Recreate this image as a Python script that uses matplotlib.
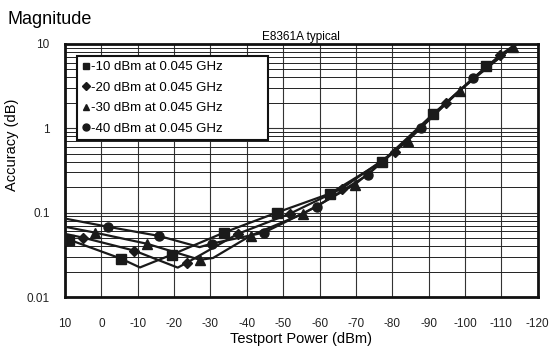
import matplotlib
matplotlib.use("Agg")
import matplotlib.pyplot as plt
from matplotlib.lines import Line2D

plt.rcParams['font.family'] = ['Liberation Sans', 'DejaVu Sans']
plt.rcParams['axes.unicode_minus'] = False

# ---- data ----
x_ticks = [10, 0, -10, -20, -30, -40, -50, -60, -70, -80, -90, -100, -110, -120]
x_tick_labels = ["10", "0", "-10", "-20", "-30", "-40", "-50", "-60", "-70", "-80", "-90", "-100", "-110", "-120"]
y_ticks = [0.01, 0.1, 1, 10]
y_tick_labels = ["0.01", "0.1", "1", "10"]

sq_x = [10, 9, -5.4, -10.6, -19.4, -33.7, -48.2, -62.8, -77.1, -91.1, -105.9, -114.6]
sq_y = [0.049, 0.048, 0.0285, 0.0224, 0.0318, 0.058, 0.100, 0.168, 0.40, 1.46, 5.4, 10.2]
sq_marks = [1, 2, 4, 5, 6, 7, 8, 9, 10]

dia_x = [10, 5.0, -9.0, -21.0, -23.5, -37.5, -51.8, -66.1, -80.7, -94.9, -109.5, -114.5]
dia_y = [0.056, 0.0505, 0.0355, 0.0223, 0.0255, 0.056, 0.097, 0.193, 0.53, 2.02, 7.3, 10.3]
dia_marks = [1, 2, 4, 5, 6, 7, 8, 9, 10]

tri_x = [10, 1.8, -12.5, -27.1, -30.7, -41.1, -55.4, -69.7, -84.2, -98.5, -113.1, -114.6]
tri_y = [0.068, 0.058, 0.0428, 0.0276, 0.029, 0.0535, 0.097, 0.215, 0.71, 2.8, 9.2, 10.4]
tri_marks = [1, 2, 3, 5, 6, 7, 8, 9, 10]

cir_x = [10, -1.8, -15.8, -27.0, -30.4, -44.7, -59.2, -73.2, -87.8, -102.1, -114.6]
cir_y = [0.085, 0.068, 0.053, 0.039, 0.043, 0.058, 0.118, 0.28, 1.02, 3.9, 10.2]
cir_marks = [1, 2, 4, 5, 6, 7, 8, 9]

labels = ["-10 dBm at 0.045 GHz", "-20 dBm at 0.045 GHz",
          "-30 dBm at 0.045 GHz", "-40 dBm at 0.045 GHz"]

# ---- figure ----
fig = plt.figure(figsize=(5.51, 3.54), dpi=100)
ax = fig.add_axes([0.118, 0.161, 0.858, 0.715])

col = '#1a1a1a'
series = [
    (sq_x, sq_y, sq_marks, 's', 6.5),
    (dia_x, dia_y, dia_marks, 'D', 5.0),
    (tri_x, tri_y, tri_marks, '^', 6.5),
    (cir_x, cir_y, cir_marks, 'o', 6.5),
]
for xs, ys, mk, m, ms in series:
    ax.plot(xs, ys, color=col, lw=1.6, marker=m, markersize=ms,
            markevery=mk, markerfacecolor=col, markeredgecolor=col, zorder=3)

ax.set_yscale('log')
ax.set_xlim(10, -120)
ax.set_ylim(0.01, 10)
ax.set_xticks(x_ticks)
ax.set_xticklabels(x_tick_labels)
ax.set_yticks(y_ticks)
ax.set_yticklabels(y_tick_labels)
ax.tick_params(axis='both', which='both', length=0, labelsize=8.5, colors='#222222')
ax.tick_params(axis='x', pad=15)
ax.tick_params(axis='y', pad=11)
ax.grid(True, which='major', color='#333333', lw=0.8)
ax.grid(True, which='minor', axis='y', color='#222222', lw=0.7)
ax.xaxis.set_minor_locator(matplotlib.ticker.NullLocator())
for s in ax.spines.values():
    s.set_linewidth(2.0)
    s.set_color('#111111')

ax.set_xlabel("Testport Power (dBm)", fontsize=10.5)
ax.xaxis.set_label_coords(0.5, -0.14)
ax.set_ylabel("Accuracy (dB)", fontsize=10.5)
ax.yaxis.set_label_coords(-0.097, 0.6)
ax.set_title("E8361A typical", fontsize=8.5, pad=3)
fig.text(0.013, 0.945, "Magnitude", fontsize=13, ha='left', va='center')

handles = [
    Line2D([], [], ls='none', marker='s', color=col, markersize=5),
    Line2D([], [], ls='none', marker='D', color=col, markersize=3.8),
    Line2D([], [], ls='none', marker='^', color=col, markersize=5),
    Line2D([], [], ls='none', marker='o', color=col, markersize=5),
]
leg = ax.legend(handles, labels, loc='upper left',
                bbox_to_anchor=(0.0254, 0.597, 0.404, 0.356), mode='expand',
                borderaxespad=0, fontsize=9.5, frameon=True, fancybox=False,
                handlelength=0.5, handletextpad=0.15, labelspacing=0.62,
                borderpad=0.4, framealpha=1)
leg.get_frame().set_edgecolor('#111111')
leg.get_frame().set_linewidth(1.5)
leg.set_zorder(5)

fig.savefig("out.png", dpi=100)
